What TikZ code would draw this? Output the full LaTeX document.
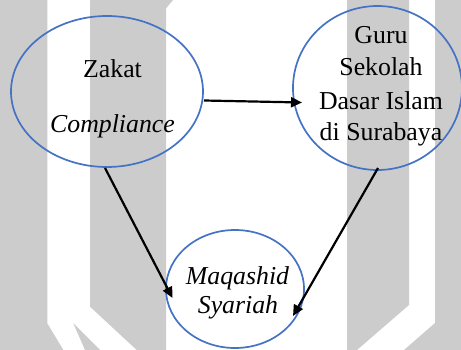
\documentclass[tikz,border=0pt]{standalone}
\usepackage{fontspec}
\setmainfont{Liberation Serif}
\usetikzlibrary{shapes.geometric,arrows.meta}
\definecolor{wmgray}{HTML}{CCCCCC}
\definecolor{ellblue}{HTML}{4472C4}
\tikzset{
  ell/.style={ellipse, draw=ellblue, line width=1.7pt, inner sep=0pt},
  lbl/.style={anchor=base, inner sep=0pt, font=\fontsize{25.8}{32}\selectfont},
  conn/.style={line width=2.2pt, -{Triangle[length=11pt,width=10pt]}}
}
\begin{document}
\begin{tikzpicture}[x=1pt,y=-1pt]
\useasboundingbox (0,0) rectangle (461,350);
% watermark background
\fill[wmgray] (0,0) -- (47.3,0) -- (47.3,323.3) -- (63.3,350) -- (0,350) -- cycle;
\fill[wmgray] (73.3,323.3) -- (100,350) -- (85,350) -- cycle;
\fill[wmgray] (90,0) -- (173,0) -- (166,8.5) -- (166,350) -- (136.7,350) -- (90,306.7) -- cycle;
\fill[wmgray] (347,0) -- (409,0) -- (409,305) -- (357,350) -- (347,350) -- cycle;
\fill[wmgray] (435,0) -- (461,0) -- (461,350) -- (404,350) -- (435,323) -- cycle;
% ellipses
\node[ell, minimum width=192pt, minimum height=151pt] (zakat) at (107,91.5) {};
\node[ell, minimum width=169pt, minimum height=164pt] (guru) at (377.5,88) {};
\node[ell, minimum width=138pt, minimum height=118pt] (maqashid) at (235,289) {};
% texts
\node[lbl] (zakatA) at (112.5,78) {Zakat};
\node[lbl] (zakatB) at (112.5,133) {\itshape Compliance};
\node[lbl] (guruA) at (381,43.3) {Guru};
\node[lbl] (guruB) at (381,76) {Sekolah};
\node[lbl] (guruC) at (381,109.3) {Dasar Islam};
\node[lbl] (guruD) at (381,141) {di Surabaya};
\node[lbl] (maqA) at (237.5,284) {\itshape Maqashid};
\node[lbl] (maqB) at (238,313.3) {\itshape Syariah};
% connector ends
\coordinate (a1s) at (204,100.5);
\coordinate (a1e) at (302,102.5);
\coordinate (a2s) at (105,168);
\coordinate (a2e) at (172.5,298);
\coordinate (a3s) at (378,168);
\coordinate (a3e) at (293,316);
\draw[conn] (a1s) -- (a1e);
\draw[conn] (a2s) -- (a2e);
\draw[conn] (a3s) -- (a3e);
\end{tikzpicture}
\end{document}
